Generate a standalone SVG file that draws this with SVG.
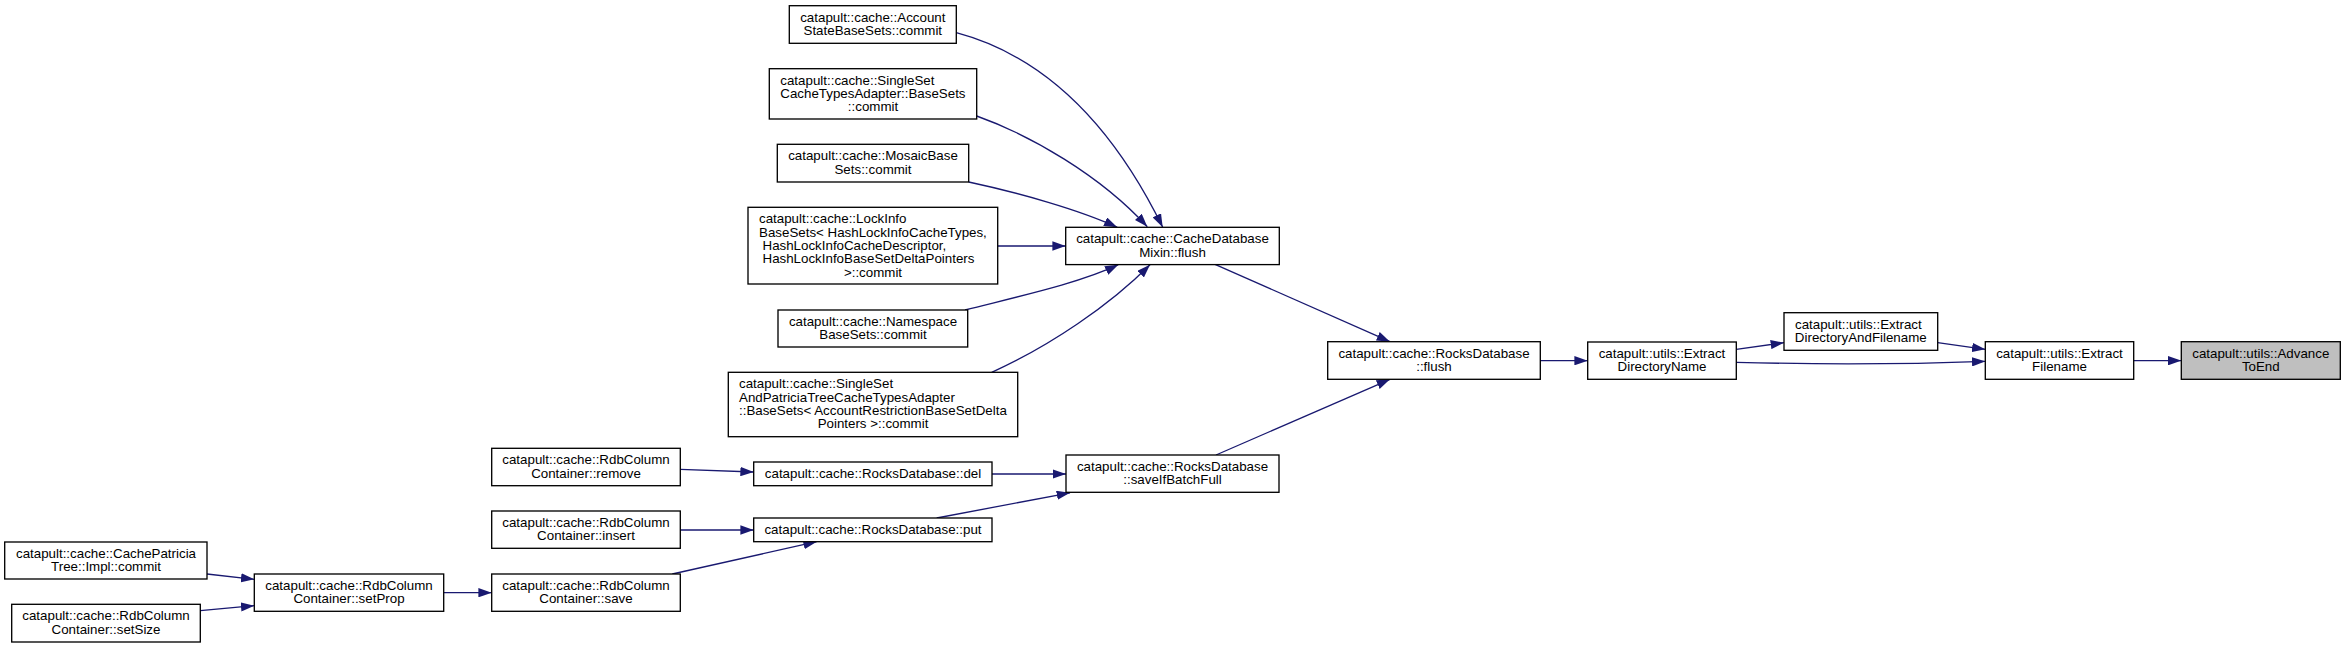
<svg xmlns="http://www.w3.org/2000/svg" width="2345" height="648" viewBox="0 0 2345 648">
<style>
.n rect{fill:#ffffff;stroke:#000000;stroke-width:1.33}
.n rect.hl{fill:#bfbfbf}
.n text{font-family:"Liberation Sans",Arial,Helvetica,sans-serif;font-size:13.33px;fill:#000000}
.m{text-anchor:middle}
.s{text-anchor:start}
.e path{fill:none;stroke:#191970;stroke-width:1.33;marker-end:url(#ah)}
</style>
<defs>
<marker id="ah" markerUnits="userSpaceOnUse" viewBox="0 0 13.33 9.33" markerWidth="13.33" markerHeight="9.33" refX="13.33" refY="4.67" orient="auto">
<polygon points="0,0 13.33,4.67 0,9.33" fill="#191970"/>
</marker>
</defs>
<rect x="0" y="0" width="2345" height="648" fill="#ffffff"/>
<g id="connectors" class="e">
<path d="M956.3,32.7 C1040,55 1110,120 1162.7,227.3"/>
<path d="M976.7,116 C1030,135 1100,175 1147.3,226.7"/>
<path d="M968.7,182 C1020,193 1080,210 1117.3,227.3"/>
<path d="M997.7,246 L1065.7,246"/>
<path d="M965,310 C1020,296 1080,283 1118.3,264.7"/>
<path d="M991.7,372.3 C1050,346 1110,305 1150,264.7"/>
<path d="M1215,264.3 L1390,341.7"/>
<path d="M1216,455 L1390,379.3"/>
<path d="M1540.3,360.7 L1587.7,360.7"/>
<path d="M1736.3,349.3 L1784,342.7"/>
<path d="M1736.3,362.3 C1820,364.5 1900,364.5 1985.3,361.3"/>
<path d="M1937.7,342.7 L1985.3,349.3"/>
<path d="M2133.7,360.7 L2181.3,360.7"/>
<path d="M992,474 L1066,474"/>
<path d="M936.7,518 L1070,492.8"/>
<path d="M680.3,469.3 L753.7,472"/>
<path d="M680.3,530 L753.7,530"/>
<path d="M672.3,574 L816.7,541.7"/>
<path d="M443.7,592.7 L491.7,592.7"/>
<path d="M207,574 L254.3,579.3"/>
<path d="M200.3,610.7 L254.3,605.7"/>
</g>
<g id="n_account" class="n">
<rect x="789.3" y="5.7" width="167" height="37.6"/>
<text class="m" x="872.8" y="21.7">catapult::cache::Account</text>
<text class="m" x="872.8" y="35">StateBaseSets::commit</text>
</g>
<g id="n_singleset" class="n">
<rect x="769.3" y="68.7" width="207.4" height="50.3"/>
<text class="s" x="780.3" y="84.7">catapult::cache::SingleSet</text>
<text class="s" x="780.3" y="98">CacheTypesAdapter::BaseSets</text>
<text class="m" x="873" y="111.3">::commit</text>
</g>
<g id="n_mosaic" class="n">
<rect x="777.3" y="144.3" width="191.4" height="37.7"/>
<text class="m" x="873" y="160.3">catapult::cache::MosaicBase</text>
<text class="m" x="873" y="173.6">Sets::commit</text>
</g>
<g id="n_lockinfo" class="n">
<rect x="748" y="207.3" width="249.7" height="76.7"/>
<text class="s" x="759" y="223.3">catapult::cache::LockInfo</text>
<text class="s" x="759" y="236.6">BaseSets&lt; HashLockInfoCacheTypes,</text>
<text class="s" x="762.5" y="250">HashLockInfoCacheDescriptor,</text>
<text class="s" x="762.5" y="263.3">HashLockInfoBaseSetDeltaPointers</text>
<text class="m" x="873" y="276.6">&gt;::commit</text>
</g>
<g id="n_namespace" class="n">
<rect x="778" y="310" width="189.7" height="37"/>
<text class="m" x="873" y="326">catapult::cache::Namespace</text>
<text class="m" x="873" y="339.3">BaseSets::commit</text>
</g>
<g id="n_singlesetpatricia" class="n">
<rect x="728.3" y="372.3" width="289.4" height="64.4"/>
<text class="s" x="739" y="388.3">catapult::cache::SingleSet</text>
<text class="s" x="739" y="401.6">AndPatriciaTreeCacheTypesAdapter</text>
<text class="s" x="739" y="415">::BaseSets&lt; AccountRestrictionBaseSetDelta</text>
<text class="m" x="873" y="428.3">Pointers &gt;::commit</text>
</g>
<g id="n_mixin" class="n">
<rect x="1065.7" y="227.3" width="213.6" height="37.3"/>
<text class="m" x="1172.5" y="243.3">catapult::cache::CacheDatabase</text>
<text class="m" x="1172.5" y="256.6">Mixin::flush</text>
</g>
<g id="n_rocksflush" class="n">
<rect x="1327.7" y="341.7" width="212.6" height="37.6"/>
<text class="m" x="1434" y="357.7">catapult::cache::RocksDatabase</text>
<text class="m" x="1434" y="371">::flush</text>
</g>
<g id="n_saveifbatchfull" class="n">
<rect x="1066" y="455" width="213" height="37.3"/>
<text class="m" x="1172.5" y="471">catapult::cache::RocksDatabase</text>
<text class="m" x="1172.5" y="484.3">::saveIfBatchFull</text>
</g>
<g id="n_dirname" class="n">
<rect x="1587.7" y="342" width="148.6" height="37.3"/>
<text class="m" x="1662" y="358">catapult::utils::Extract</text>
<text class="m" x="1662" y="371.3">DirectoryName</text>
</g>
<g id="n_dirandfile" class="n">
<rect x="1784" y="312.7" width="153.7" height="37.6"/>
<text class="s" x="1795" y="328.7">catapult::utils::Extract</text>
<text class="m" x="1860.8" y="342">DirectoryAndFilename</text>
</g>
<g id="n_extractfilename" class="n">
<rect x="1985.3" y="341.7" width="148.4" height="37.6"/>
<text class="m" x="2059.5" y="357.7">catapult::utils::Extract</text>
<text class="m" x="2059.5" y="371">Filename</text>
</g>
<g id="n_advancetoend" class="n">
<rect class="hl" x="2181.3" y="341.7" width="159" height="37.6"/>
<text class="m" x="2260.8" y="357.7">catapult::utils::Advance</text>
<text class="m" x="2260.8" y="371">ToEnd</text>
</g>
<g id="n_del" class="n">
<rect x="753.7" y="462" width="238.3" height="23.7"/>
<text class="m" x="873" y="478">catapult::cache::RocksDatabase::del</text>
</g>
<g id="n_put" class="n">
<rect x="753.7" y="518" width="238.3" height="23.7"/>
<text class="m" x="873" y="534">catapult::cache::RocksDatabase::put</text>
</g>
<g id="n_remove" class="n">
<rect x="491.7" y="448.3" width="188.6" height="37.4"/>
<text class="m" x="586" y="464.3">catapult::cache::RdbColumn</text>
<text class="m" x="586" y="477.6">Container::remove</text>
</g>
<g id="n_insert" class="n">
<rect x="491.7" y="511" width="188.6" height="37.3"/>
<text class="m" x="586" y="527">catapult::cache::RdbColumn</text>
<text class="m" x="586" y="540.3">Container::insert</text>
</g>
<g id="n_save" class="n">
<rect x="491.7" y="574" width="188.6" height="37.3"/>
<text class="m" x="586" y="590">catapult::cache::RdbColumn</text>
<text class="m" x="586" y="603.3">Container::save</text>
</g>
<g id="n_setprop" class="n">
<rect x="254.3" y="574" width="189.4" height="37.3"/>
<text class="m" x="349" y="590">catapult::cache::RdbColumn</text>
<text class="m" x="349" y="603.3">Container::setProp</text>
</g>
<g id="n_cachepatricia" class="n">
<rect x="4.7" y="542" width="202.3" height="37"/>
<text class="m" x="106" y="558">catapult::cache::CachePatricia</text>
<text class="m" x="106" y="571.3">Tree::Impl::commit</text>
</g>
<g id="n_setsize" class="n">
<rect x="11.7" y="604.3" width="188.6" height="37.7"/>
<text class="m" x="106" y="620.3">catapult::cache::RdbColumn</text>
<text class="m" x="106" y="633.6">Container::setSize</text>
</g>
</svg>
